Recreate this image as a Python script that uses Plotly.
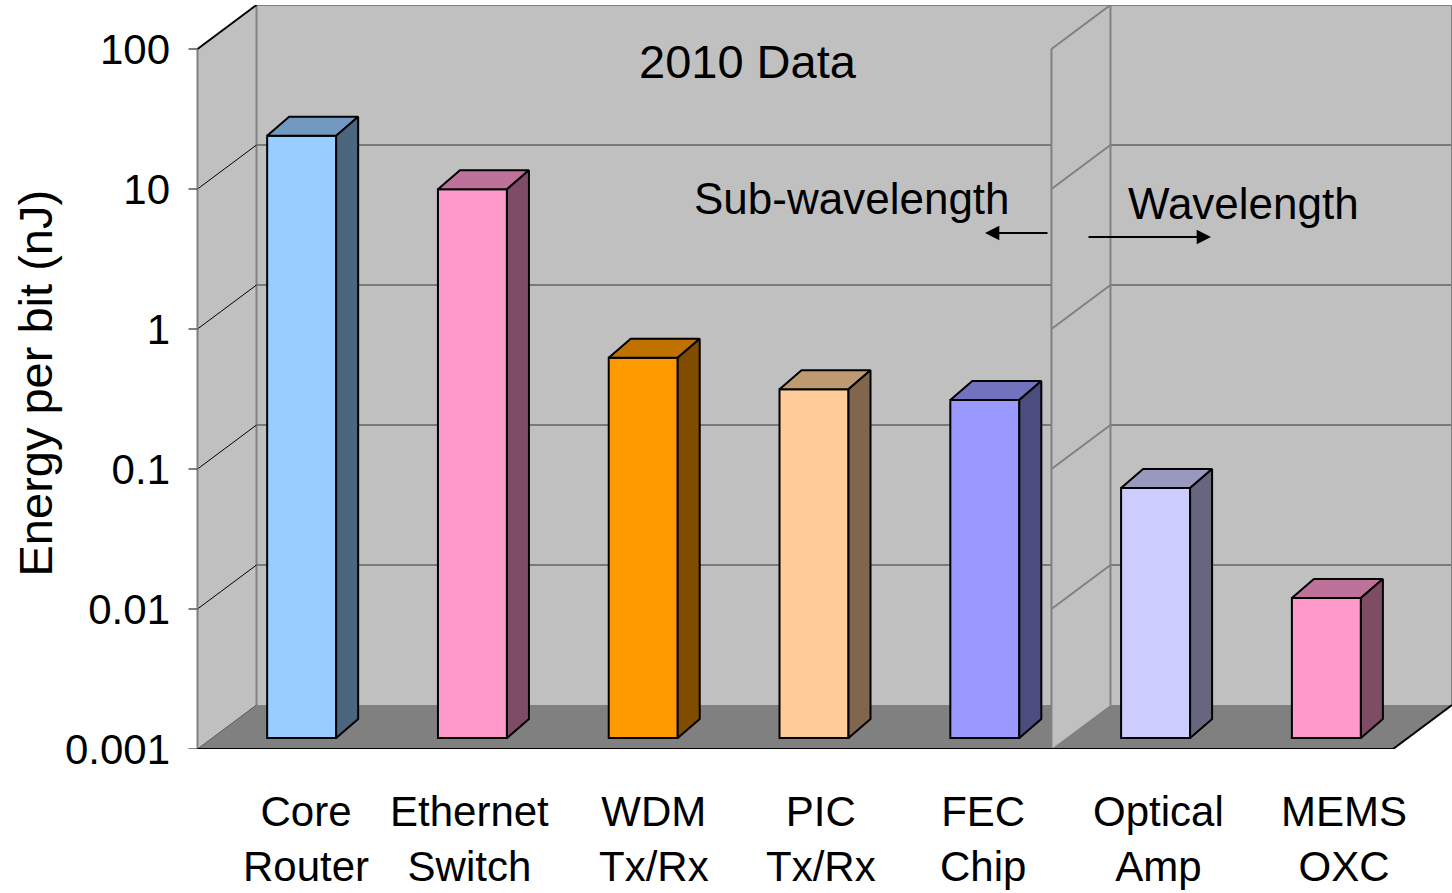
import plotly.graph_objects as go

# ---------------- data ----------------
categories = ["Core<br>Router", "Ethernet<br>Switch", "WDM<br>Tx/Rx", "PIC<br>Tx/Rx",
              "FEC<br>Chip", "Optical<br>Amp", "MEMS<br>OXC"]
energy_nj = [20, 8.3, 0.52, 0.31, 0.26, 0.061, 0.01]
bar_colors = ["#99CCFF", "#FF99CC", "#FF9900", "#FFCC99", "#9999FF", "#CCCCFF", "#FF99CC"]
tick_values = [0.001, 0.01, 0.1, 1, 10, 100]
tick_text = ["0.001", "0.01", "0.1", "1", "10", "100"]

# per-label horizontal nudge (px) of the category captions
label_dx = [4, -3, 11, 7, -2, 3, 18]

# ---------------- page geometry (px) ----------------
W, H = 1452, 893
M_L, M_R, M_T, M_B = 186, 0, 5, 144
PLOT_W, PLOT_H = W - M_L - M_R, H - M_T - M_B
DECADE_PX = 140.0
SLOT_PX = 170.79
WALL_X0_PX = 197.5          # front-left corner of the chart box
BAR_SHIFT_PX = 4            # bars sit slightly right of slot centres
FONT = "Liberation Sans, Arial, sans-serif"

LOG_MIN, LOG_MAX = -3, 2
FLOOR = 10 ** LOG_MIN
X_LEFT, X_SPLIT, X_RIGHT = -0.5, 4.5, 6.5

DX, DY = 59 / SLOT_PX, 44 / DECADE_PX      # depth of the box
BAR_DEPTH = 0.25                             # depth of the bar fronts
BX, BY = 22 / SLOT_PX, 19 / DECADE_PX        # depth of a bar
BAR_W = 69 / SLOT_PX

WALL = "#C0C0C0"
FLOOR_C = "#808080"
EDGE = "#808080"


def x_of_px(p):
    return X_LEFT + (p - WALL_X0_PX) / SLOT_PX


x_range = [x_of_px(M_L), x_of_px(W - M_R)]
y_range = [LOG_MIN, LOG_MIN + PLOT_H / DECADE_PX]
x2_range = [v - BAR_DEPTH * DX - BAR_SHIFT_PX / SLOT_PX for v in x_range]
y2_range = [v - BAR_DEPTH * DY for v in y_range]


def proj(x, lg, d):
    return x + d * DX, 10 ** (lg + d * DY)


def poly(pts, fill, line_color=None, width=0, xa="x", ya="y"):
    xs = [p[0] for p in pts] + [pts[0][0]]
    ys = [p[1] for p in pts] + [pts[0][1]]
    return go.Scatter(x=xs, y=ys, mode="lines", fill="toself", fillcolor=fill,
                      line=dict(color=line_color or fill, width=width),
                      xaxis=xa, yaxis=ya, hoverinfo="skip", showlegend=False)


def segs(pairs, color, width, xa="x", ya="y"):
    xs, ys = [], []
    for a, b in pairs:
        xs += [a[0], b[0], None]
        ys += [a[1], b[1], None]
    return go.Scatter(x=xs, y=ys, mode="lines", line=dict(color=color, width=width),
                      xaxis=xa, yaxis=ya, hoverinfo="skip", showlegend=False)


def shade(hex_color, k):
    h = hex_color.lstrip("#")
    r, g, b = (int(h[i:i + 2], 16) for i in (0, 2, 4))
    return "rgb({},{},{})".format(int(r * k), int(g * k), int(b * k))


fig = go.Figure()

inner = range(LOG_MIN + 1, LOG_MAX)

# back wall, floor, left wall
fig.add_trace(poly([proj(X_LEFT, LOG_MIN, 1), proj(X_RIGHT, LOG_MIN, 1),
                    proj(X_RIGHT, LOG_MAX, 1), proj(X_LEFT, LOG_MAX, 1)], WALL))
fig.add_trace(poly([proj(X_LEFT, LOG_MIN, 0), proj(X_RIGHT, LOG_MIN, 0),
                    proj(X_RIGHT, LOG_MIN, 1), proj(X_LEFT, LOG_MIN, 1)], FLOOR_C))
fig.add_trace(poly([proj(X_LEFT, LOG_MIN, 0), proj(X_LEFT, LOG_MAX, 0),
                    proj(X_LEFT, LOG_MAX, 1), proj(X_LEFT, LOG_MIN, 1)], WALL))

# gridlines on the back wall
fig.add_trace(segs([(proj(X_LEFT, L, 1), proj(X_RIGHT, L, 1)) for L in inner], "#333333", 1.2))
# back wall border
fig.add_trace(segs([(proj(X_LEFT, LOG_MAX, 1), proj(X_RIGHT, LOG_MAX, 1)),
                    (proj(X_RIGHT, LOG_MAX, 1), proj(X_RIGHT, LOG_MIN, 1)),
                    (proj(X_LEFT, LOG_MIN, 1), proj(X_LEFT, LOG_MAX, 1))], EDGE, 2))
# gridlines on the left wall
fig.add_trace(segs([(proj(X_LEFT, L, 0), proj(X_LEFT, L, 1)) for L in inner], "#000000", 1))
fig.add_trace(segs([(proj(X_LEFT, LOG_MAX, 0), proj(X_LEFT, LOG_MAX, 1))], "#000000", 2))
fig.add_trace(segs([(proj(X_LEFT, LOG_MIN, 0), proj(X_LEFT, LOG_MIN, 1))], "#555555", 1))
# value axis line and tick marks
fig.add_trace(segs([(proj(X_LEFT, LOG_MIN, 0), proj(X_LEFT, LOG_MAX, 0))], EDGE, 2))
tick_len = 9 / SLOT_PX
fig.add_trace(segs([((X_LEFT - tick_len, v), (X_LEFT, v)) for v in tick_values], "#555555", 1.5))

# divider wall between the two groups
fig.add_trace(poly([proj(X_SPLIT, LOG_MIN, 0), proj(X_SPLIT, LOG_MAX, 0),
                    proj(X_SPLIT, LOG_MAX, 1), proj(X_SPLIT, LOG_MIN, 1)], WALL))
div_lines = [(proj(X_SPLIT, LOG_MIN, 0), proj(X_SPLIT, LOG_MAX, 0)),
             (proj(X_SPLIT, LOG_MIN, 1), proj(X_SPLIT, LOG_MAX, 1)),
             (proj(X_SPLIT, LOG_MAX, 0), proj(X_SPLIT, LOG_MAX, 1))]
div_lines += [(proj(X_SPLIT, L, 0), proj(X_SPLIT, L, 1)) for L in inner]
fig.add_trace(segs(div_lines, EDGE, 2))

# front edge of the floor
fig.add_trace(segs([(proj(X_LEFT, LOG_MIN, 0), proj(X_RIGHT, LOG_MIN, 0)),
                    (proj(X_RIGHT, LOG_MIN, 0), proj(X_RIGHT, LOG_MIN, 1))], "#000000", 2))

# ---------------- bars (drawn on the bar-front plane) ----------------
xs = list(range(len(energy_nj)))
fig.add_trace(go.Bar(x=xs, y=[v - FLOOR for v in energy_nj], base=FLOOR, width=BAR_W,
                     marker=dict(color=bar_colors, line=dict(color="#000000", width=2)),
                     xaxis="x2", yaxis="y2", hoverinfo="skip", showlegend=False))

lift = 10 ** BY
for i, (v, c) in enumerate(zip(energy_nj, bar_colors)):
    xl, xr = i - BAR_W / 2, i + BAR_W / 2
    fig.add_trace(poly([(xl, v), (xr, v), (xr + BX, v * lift), (xl + BX, v * lift)],
                       shade(c, 0.75), "#000000", 2, "x2", "y2"))
    fig.add_trace(poly([(xr, FLOOR), (xr, v), (xr + BX, v * lift), (xr + BX, FLOOR * lift)],
                       shade(c, 0.5), "#000000", 2, "x2", "y2"))


# ---------------- text ----------------
def fx(p):
    return (p - M_L) / PLOT_W


def fy(p):
    return (H - M_B - p) / PLOT_H


annotations = []
for i, (name, dx) in enumerate(zip(categories, label_dx)):
    annotations.append(dict(text=name, x=i, xref="x2", y=0, yref="paper",
                            xanchor="center", yanchor="top", xshift=dx, yshift=-37,
                            showarrow=False, align="center",
                            font=dict(family=FONT, size=42, color="#000000")))

annotations += [
    dict(text="2010 Data", x=fx(747.5), y=fy(61.7), xref="paper", yref="paper",
         xanchor="center", yanchor="middle", showarrow=False,
         font=dict(family=FONT, size=47, color="#000000")),
    dict(text="Sub-wavelength", x=fx(852), y=fy(198), xref="paper", yref="paper",
         xanchor="center", yanchor="middle", showarrow=False,
         font=dict(family=FONT, size=44, color="#000000")),
    dict(text="Wavelength", x=fx(1243), y=fy(203), xref="paper", yref="paper",
         xanchor="center", yanchor="middle", showarrow=False,
         font=dict(family=FONT, size=44, color="#000000")),
    dict(text="Energy per bit (nJ)", x=fx(35), y=fy(383.5), xref="paper", yref="paper",
         xanchor="center", yanchor="middle", textangle=-90, showarrow=False,
         font=dict(family=FONT, size=47, color="#000000")),
    dict(text="", x=fx(985), y=fy(233), xref="paper", yref="paper", showarrow=True,
         ax=64, ay=0, arrowhead=2, arrowsize=1.3, arrowwidth=2.2, arrowcolor="#000000"),
    dict(text="", x=fx(1211), y=fy(237), xref="paper", yref="paper", showarrow=True,
         ax=-124, ay=0, arrowhead=2, arrowsize=1.3, arrowwidth=2.2, arrowcolor="#000000"),
]

hidden = dict(visible=False, showgrid=False, zeroline=False, fixedrange=True)

fig.update_layout(
    width=W, height=H,
    margin=dict(l=M_L, r=M_R, t=M_T, b=M_B, pad=0),
    paper_bgcolor="#FFFFFF", plot_bgcolor="#FFFFFF",
    showlegend=False,
    font=dict(family=FONT, color="#000000"),
    xaxis=dict(range=x_range, **hidden),
    yaxis=dict(type="log", range=y_range, tickvals=tick_values, ticktext=tick_text,
               ticks="", showline=False, showgrid=False, zeroline=False,
               ticklabelstandoff=15, tickfont=dict(family=FONT, size=42, color="#000000"),
               fixedrange=True),
    xaxis2=dict(range=x2_range, overlaying="x", anchor="y2", **hidden),
    yaxis2=dict(type="log", range=y2_range, overlaying="y", anchor="x2", **hidden),
    annotations=annotations,
)

fig.write_html("out.html")
